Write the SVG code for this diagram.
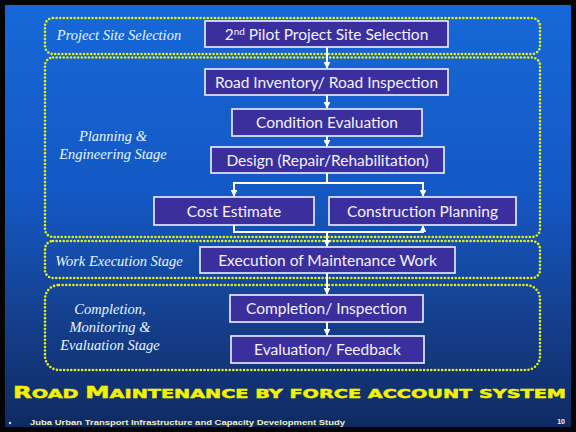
<svg xmlns="http://www.w3.org/2000/svg" width="576" height="432" viewBox="0 0 576 432">
  <defs>
    <linearGradient id="bg" x1="0" y1="0" x2="0" y2="1">
      <stop offset="0" stop-color="#1768d8"/>
      <stop offset="0.45" stop-color="#1458c4"/>
      <stop offset="0.75" stop-color="#153f8c"/>
      <stop offset="1" stop-color="#0f2a62"/>
    </linearGradient>
    <marker id="ah" viewBox="0 0 10 10" refX="9" refY="5" markerWidth="3.4" markerHeight="3.4" orient="auto" markerUnits="strokeWidth">
      <path d="M0,0 L10,5 L0,10 z" fill="#ffffff"/>
    </marker>
    <style>
      .stage { fill: none; stroke: #e4f01c; stroke-width: 2.6; stroke-dasharray: 0 3.6; stroke-linecap: round; }
      .box { fill: #3b2f9e; stroke: #f2f2ff; stroke-width: 1.6; }
      .lbl { font-family: "Lato", "Open Sans", sans-serif; font-size: 15.5px; fill: #f4f2ff; text-anchor: middle; }
      .stg { font-family: "Liberation Serif", "DejaVu Serif", serif; font-style: italic; font-size: 14.5px; fill: #e8f6ff; text-anchor: middle; }
      .wire { fill: none; stroke: #ffffff; stroke-width: 2; }
    </style>
  </defs>

  <!-- slide frame -->
  <rect x="0" y="0" width="576" height="432" fill="#050505"/>
  <rect x="5" y="5" width="566" height="422" fill="url(#bg)"/>

  <!-- stage outlines -->
  <g id="stages">
    <rect class="stage" x="45" y="18" width="495" height="36" rx="8"/>
    <rect class="stage" x="45" y="57.5" width="495" height="179.5" rx="8"/>
    <rect class="stage" x="45" y="241" width="495" height="37" rx="8"/>
    <rect class="stage" x="45" y="285" width="495" height="85" rx="14"/>
  </g>

  <!-- stage names -->
  <g id="stage-labels">
    <text class="stg" x="119" y="40">Project Site Selection</text>
    <text class="stg" x="113" y="141">Planning &amp;</text>
    <text class="stg" x="113" y="159">Engineering Stage</text>
    <text class="stg" x="119" y="266">Work Execution Stage</text>
    <text class="stg" x="110" y="314">Completion,</text>
    <text class="stg" x="110" y="332">Monitoring &amp;</text>
    <text class="stg" x="110" y="350">Evaluation Stage</text>
  </g>

  <!-- connectors -->
  <g id="connectors">
    <line class="wire" x1="327" y1="47" x2="327" y2="68" marker-end="url(#ah)"/>
    <line class="wire" x1="327" y1="95" x2="327" y2="108" marker-end="url(#ah)"/>
    <line class="wire" x1="327" y1="136" x2="327" y2="146" marker-end="url(#ah)"/>
    <polyline class="wire" points="327,173 327,183 234,183 234,196" marker-end="url(#ah)"/>
    <polyline class="wire" points="327,183 423,183 423,196" marker-end="url(#ah)"/>
    <polyline class="wire" points="234,225 234,232 423,232 423,226" marker-end="url(#ah)"/>
    <line class="wire" x1="327" y1="232" x2="327" y2="246" marker-end="url(#ah)"/>
    <line class="wire" x1="327" y1="273" x2="327" y2="294" marker-end="url(#ah)"/>
    <line class="wire" x1="327" y1="322" x2="327" y2="335" marker-end="url(#ah)"/>
  </g>

  <!-- process steps -->
  <g id="site-selection">
    <rect class="box" x="205" y="21" width="243" height="26"/>
    <text class="lbl" x="326.5" y="39.5">2<tspan font-size="10" dy="-5">nd</tspan><tspan dy="5"> Pilot Project Site Selection</tspan></text>
  </g>
  <g id="road-inventory">
    <rect class="box" x="205" y="69" width="243" height="26"/>
    <text class="lbl" x="326.5" y="87.5">Road Inventory/ Road Inspection</text>
  </g>
  <g id="condition-evaluation">
    <rect class="box" x="232" y="109" width="190" height="27"/>
    <text class="lbl" x="327" y="128">Condition Evaluation</text>
  </g>
  <g id="design">
    <rect class="box" x="211" y="147" width="233" height="26"/>
    <text class="lbl" x="327.5" y="165.5">Design (Repair/Rehabilitation)</text>
  </g>
  <g id="cost-estimate">
    <rect class="box" x="154" y="197" width="160" height="28"/>
    <text class="lbl" x="234" y="216.5">Cost Estimate</text>
  </g>
  <g id="construction-planning">
    <rect class="box" x="329" y="197" width="187" height="28"/>
    <text class="lbl" x="422.5" y="216.5">Construction Planning</text>
  </g>
  <g id="execution">
    <rect class="box" x="200" y="247" width="255" height="26"/>
    <text class="lbl" x="327.5" y="265.5">Execution of Maintenance Work</text>
  </g>
  <g id="completion-inspection">
    <rect class="box" x="230" y="295" width="193" height="27"/>
    <text class="lbl" x="326.5" y="314">Completion/ Inspection</text>
  </g>
  <g id="evaluation-feedback">
    <rect class="box" x="231" y="336" width="193" height="27"/>
    <text class="lbl" x="327.5" y="355">Evaluation/ Feedback</text>
  </g>

  <!-- title -->
  <text x="13" y="398" textLength="553" lengthAdjust="spacingAndGlyphs" font-family="DejaVu Sans, sans-serif" font-weight="bold" fill="#f2f200" stroke="#f2f200" stroke-width="0.5"><tspan font-size="16.5">R</tspan><tspan font-size="13">OAD </tspan><tspan font-size="16.5">M</tspan><tspan font-size="13">AINTENANCE BY FORCE ACCOUNT SYSTEM</tspan></text>

  <!-- footer -->
  <circle cx="10" cy="423" r="1.2" fill="#d8e8ff"/>
  <text x="30" y="425" textLength="315" lengthAdjust="spacingAndGlyphs" font-family="Liberation Sans, sans-serif" font-weight="bold" font-size="7" fill="#f2f0c0">Juba Urban Transport Infrastructure and Capacity Development Study</text>
  <text x="565" y="424" text-anchor="end" font-family="Liberation Sans, sans-serif" font-weight="bold" font-size="7" fill="#f4f4f4">10</text>
</svg>
